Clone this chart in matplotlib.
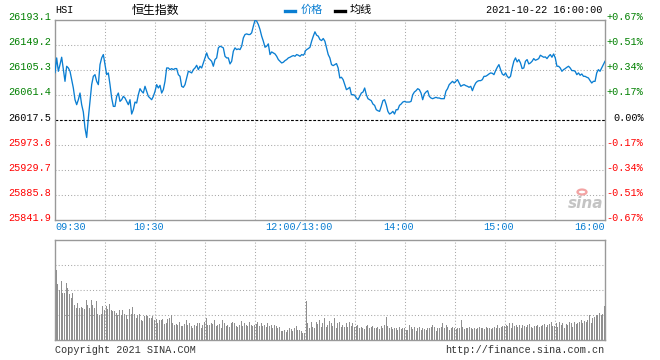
import matplotlib
matplotlib.use("Agg")
import matplotlib.pyplot as plt
import numpy as np
from matplotlib.transforms import blended_transform_factory, offset_copy
from matplotlib.lines import Line2D
from matplotlib.patches import Circle

# ---------------- data ----------------
prev_close = 26017.5
y_levels = [26193.1, 26149.2, 26105.3, 26061.4, 26017.5, 25973.6, 25929.7, 25885.8, 25841.9]
pct_labels = ["+0.67%", "+0.51%", "+0.34%", "+0.17%", "0.00%", "-0.17%", "-0.34%", "-0.51%", "-0.67%"]
time_labels = ["09:30", "10:30", "12:00/13:00", "14:00", "15:00", "16:00"]
time_label_pos = [0, 60, 150, 210, 270, 330]  # minutes of session

price_am = [
    26100.0, 26125.8, 26102.4, 26114.1, 26127.0, 26105.3, 26084.8, 26111.2, 26108.2, 26102.4,
    26087.8, 26073.1, 26052.6, 26043.9, 26052.6, 26064.3, 26043.9, 26031.0, 26002.9, 25986.5,
    26020.5, 26049.7, 26079.0, 26093.6, 26096.5, 26084.8, 26079.0, 26114.1, 26125.8, 26131.7,
    26114.1, 26096.5, 26099.5, 26079.0, 26055.6, 26040.9, 26040.9, 26058.5, 26064.3, 26049.7,
    26052.6, 26058.5, 26055.6, 26049.7, 26043.9, 26052.6, 26027.5, 26035.1, 26048.5, 26046.8,
    26061.4, 26071.9, 26067.3, 26064.3, 26076.1, 26067.3, 26058.5, 26055.6, 26052.6, 26058.5,
    26067.3, 26079.0, 26073.1, 26077.8, 26064.3, 26070.2, 26084.8,
    26108.2, 26108.2, 26105.3, 26107.1, 26105.3, 26107.1, 26107.1, 26096.5, 26093.6, 26076.1,
    26074.3, 26079.0, 26090.7, 26102.4, 26101.2, 26099.5, 26105.3, 26108.2, 26112.9, 26105.3,
    26111.2, 26108.2, 26117.0, 26125.8, 26134.6, 26125.8, 26122.9, 26119.9, 26111.2, 26122.9,
    26125.8, 26143.4, 26146.3, 26145.1, 26143.4, 26128.7, 26125.8, 26125.8, 26115.3, 26119.9,
    26137.5, 26143.4, 26140.4, 26141.6, 26140.4, 26146.3, 26160.9, 26166.8, 26167.9, 26166.8,
    26166.8, 26169.7, 26181.4, 26191.9, 26190.2, 26184.3, 26175.6, 26163.9, 26155.1, 26144.5,
    26146.3, 26150.4, 26131.7, 26136.3, 26134.6, 26132.8,
    26128.7, 26122.9, 26119.9, 26117.0, 26118.2, 26121.1, 26122.9, 26125.8, 26127.0, 26128.7,
    26129.9, 26128.7, 26131.7, 26130.5, 26128.7, 26131.7, 26130.5, 26134.6,
]

price_pm = [
    26137.5, 26140.4, 26142.2, 26144.5, 26155.1, 26163.9, 26171.5, 26165.6, 26163.9, 26158.0,
    26156.2, 26159.8, 26155.1, 26143.4, 26131.7, 26125.8, 26114.1, 26112.3, 26114.1, 26115.9,
    26108.2, 26090.7, 26091.9, 26087.8, 26079.0, 26070.2, 26072.0, 26074.3, 26061.4, 26061.4,
    26060.3, 26055.6, 26052.6, 26058.5, 26064.3, 26066.1, 26073.1, 26061.4, 26054.4, 26052.6,
    26050.9, 26045.0, 26042.7, 26035.1, 26033.3, 26032.2, 26040.9, 26050.9, 26052.6,
    26043.9, 26032.2, 26027.5, 26029.2, 26032.2, 26027.5, 26035.1, 26035.1, 26042.7, 26045.0,
    26048.5, 26049.7, 26048.5, 26048.5, 26048.5, 26049.7, 26061.4, 26066.1, 26068.4, 26071.9,
    26070.2, 26064.3, 26052.6, 26062.6, 26066.1, 26068.4, 26058.5, 26055.6, 26054.4, 26055.6,
    26056.8, 26055.6, 26055.6, 26054.4, 26054.4, 26054.4, 26067.3, 26071.9, 26079.0, 26081.9,
    26084.8, 26081.9, 26084.8, 26087.8, 26081.9, 26076.1, 26077.8, 26079.0, 26077.2, 26076.1,
    26074.3, 26076.1, 26068.4, 26076.1, 26081.9, 26084.8, 26086.0, 26086.0, 26087.8, 26093.6,
    26093.6, 26095.4, 26097.7, 26099.5, 26098.9, 26096.5,
    26103.6, 26109.4, 26114.1, 26105.3, 26097.7, 26095.4, 26099.5, 26093.6, 26090.7, 26093.6,
    26108.2, 26119.9, 26125.8, 26118.8, 26122.9, 26117.0, 26107.1, 26108.2, 26119.9, 26122.9,
    26115.3, 26117.0, 26119.9, 26124.6, 26121.7, 26122.9, 26124.6, 26130.5, 26128.7, 26127.0,
    26127.6, 26124.6, 26128.7, 26131.7, 26127.0, 26132.8, 26125.8, 26111.2, 26111.2, 26108.2,
    26102.4, 26105.3, 26107.1, 26109.4, 26111.2, 26108.2, 26103.6, 26103.6, 26102.4, 26096.5,
    26099.5, 26095.4, 26097.7, 26093.6, 26093.6, 26091.9, 26090.7, 26086.0, 26081.9, 26084.8,
    26084.8, 26099.5, 26105.3, 26102.4, 26108.2, 26114.1, 26119.9,
]

# volume in relative units (one unit = one grid step of the volume panel)
vol_am = [
    2.80, 2.24, 2.00, 2.36, 1.87, 1.90, 2.27, 2.07, 1.83, 1.67, 1.87, 1.40, 1.27, 1.50, 1.27,
    1.33, 1.27, 1.24, 1.60, 1.40, 1.27, 1.60, 1.40, 1.29, 1.56, 1.03, 1.00, 1.03, 1.37, 1.20,
    1.36, 1.24, 1.43, 1.20, 1.16, 1.16, 1.07, 1.00, 1.20, 1.00, 1.20, 1.03, 1.00, 0.84, 1.24,
    1.03, 1.33, 1.03, 0.89, 1.00, 1.03, 0.80, 0.76, 0.97, 1.00, 0.97, 0.89, 0.88, 0.95, 0.80,
    0.85, 0.70, 0.80, 0.82, 0.85, 0.65, 0.68, 0.85, 0.90, 1.00, 0.68, 0.60, 0.65, 0.60, 0.72,
    0.55, 0.58, 0.65, 0.80, 0.62, 0.68, 0.55, 0.50, 0.62, 0.55, 0.70, 0.68, 0.50, 0.62, 0.72,
    0.88, 0.60, 0.62, 0.68, 0.65, 0.80, 0.55, 0.62, 0.65, 0.50, 0.80, 0.70, 0.55, 0.62, 0.52,
    0.70, 0.72, 0.68, 0.58, 0.52, 0.60, 0.75, 0.55, 0.70, 0.62, 0.58, 0.72, 0.62, 0.55, 0.62,
    0.65, 0.72, 0.55, 0.68, 0.58, 0.62, 0.52, 0.68, 0.55, 0.60, 0.50, 0.62, 0.58, 0.48, 0.52,
    0.35, 0.38, 0.40, 0.32, 0.42, 0.50, 0.45, 0.38, 0.48, 0.55, 0.40, 0.42, 0.35, 0.30, 0.28,
]
vol_pm = [
    1.57, 0.67, 0.49, 0.73, 0.53, 0.47, 0.73, 0.63, 0.80, 0.53, 0.67, 0.87, 0.53, 0.60, 0.76,
    0.67, 0.57, 0.89, 0.49, 0.67, 0.73, 0.53, 0.60, 0.53, 0.67, 0.53, 0.73, 0.57, 0.67, 0.53,
    0.55, 0.60, 0.50, 0.53, 0.47, 0.45, 0.55, 0.60, 0.48, 0.53, 0.57, 0.47, 0.50, 0.53, 0.45,
    0.55, 0.50, 0.60, 0.93, 0.55, 0.47, 0.53, 0.45, 0.50, 0.47, 0.40, 0.53, 0.45, 0.50, 0.47,
    0.40, 0.40, 0.60, 0.53, 0.44, 0.53, 0.36, 0.47, 0.53, 0.40, 0.49, 0.44, 0.40, 0.47, 0.47,
    0.53, 0.60, 0.53, 0.36, 0.49, 0.47, 0.53, 0.67, 0.49, 0.60, 0.53, 0.40, 0.47, 0.53, 0.49,
    0.45, 0.50, 0.47, 0.80, 0.53, 0.45, 0.47, 0.49, 0.53, 0.47, 0.45, 0.49, 0.44, 0.47, 0.53,
    0.49, 0.47, 0.45, 0.53, 0.47, 0.49, 0.44, 0.50, 0.53, 0.47, 0.60, 0.49, 0.53, 0.55, 0.57,
    0.60, 0.55, 0.67, 0.47, 0.67, 0.55, 0.60, 0.53, 0.60, 0.47, 0.60, 0.55, 0.53, 0.60, 0.64,
    0.53, 0.49, 0.57, 0.55, 0.60, 0.53, 0.58, 0.62, 0.66, 0.53, 0.60, 0.66, 0.72, 0.55, 0.58,
    0.67, 0.53, 0.73, 0.60, 0.67, 0.49, 0.63, 0.60, 0.73, 0.67, 0.53, 0.73, 0.63, 0.67, 0.73,
    0.80, 0.67, 0.75, 0.73, 0.80, 1.00, 0.67, 0.87, 0.93, 1.00, 1.00, 1.07, 1.00, 1.03, 1.37,
]

# ---------------- style ----------------
W, H = 660, 360
BLUE = "#0a7ed2"
GREEN = "#008000"
RED = "#ff0000"
GRID = "#a8a8a8"
FRAME = "#999999"
MONO = "Liberation Mono"
CJK = ["Noto Sans CJK SC", "DejaVu Sans"]
FS = 7.3

fig = plt.figure(figsize=(W / 100, H / 100), dpi=100)
fig.patch.set_facecolor("white")

def fx(px):
    return px / W

def fy(py):
    return 1 - py / H

L, R = 55, 605
ax = fig.add_axes([fx(L), fy(220), (R - L) / W, (220 - 19.5) / H])
vax = fig.add_axes([fx(L), fy(340), (R - L) / W, (340 - 240) / H])

dot = (0, (1, 2))
for a in (ax, vax):
    a.set_xlim(0, 330)
    a.set_xticks([])
    a.set_yticks([])
    for s in a.spines.values():
        s.set_color(FRAME)
        s.set_linewidth(1.0)
    for m in range(30, 330, 30):
        a.axvline(m, color=GRID, lw=0.75, ls=dot, zorder=1)

# price panel
ax.set_ylim(y_levels[-1], y_levels[0])
for lv in y_levels[1:-1]:
    if lv == prev_close:
        ax.axhline(lv, color="black", lw=0.8, ls=(0, (2.5, 1.5)), zorder=2)
    else:
        ax.axhline(lv, color=GRID, lw=0.75, ls=dot, zorder=1)

x_am = np.linspace(0, 150, len(price_am))
x_pm = np.linspace(150, 330, len(price_pm))
ax.plot(np.r_[x_am, x_pm], np.r_[price_am, price_pm], color=BLUE, lw=0.95, zorder=3)

# y labels
trL = offset_copy(blended_transform_factory(fig.transFigure, ax.transData), fig=fig, x=0, y=2.2, units="dots")
for lv, pl in zip(y_levels, pct_labels):
    if lv > prev_close + 1e-6:
        c = GREEN
    elif lv < prev_close - 1e-6:
        c = RED
    else:
        c = "black"
    fig.text(fx(51.5), lv, f"{lv:.1f}", transform=trL, ha="right", va="center",
             color=c, family=MONO, fontsize=FS)
    fig.text(fx(643.5), lv, pl, transform=trL, ha="right", va="center",
             color=c, family=MONO, fontsize=FS)

# time labels
trX = blended_transform_factory(ax.transData, fig.transFigure)
for lab, m in zip(time_labels, time_label_pos):
    if m == 0:
        t = fig.text(m, fy(227), lab, transform=trX, ha="left", va="center")
    elif m == 330:
        t = fig.text(m, fy(227), lab, transform=trX, ha="right", va="center")
    else:
        t = fig.text(m, fy(227), lab, ha="center", va="center",
                     transform=offset_copy(trX, fig=fig, x=-6, y=0, units="dots"))
    t.set_color(BLUE)
    t.set_family(MONO)
    t.set_fontsize(FS)

# volume panel
vax.set_ylim(0, 4)
for lv in (1, 2, 3):
    vax.axhline(lv, color=GRID, lw=0.75, ls=dot, zorder=1)
xv_am = np.arange(1, len(vol_am) + 1) * 150 / len(vol_am) - 0.3
xv_pm = 150 + np.arange(1, len(vol_pm) + 1) * 180 / len(vol_pm) - 0.3
vax.bar(np.r_[xv_am, xv_pm], np.r_[vol_am, vol_pm], width=0.72, color="#8f8f8f",
        linewidth=0, zorder=2)

# header
fig.text(fx(55), fy(10), "HSI", family=MONO, fontsize=FS, ha="left", va="center", color="black")
fig.text(fx(155), fy(10), "恒生指数", family=CJK, fontsize=8.6, ha="center", va="center", color="black")
fig.add_artist(Line2D([fx(285), fx(295)], [fy(11), fy(11)], color=BLUE, lw=2.4, transform=fig.transFigure))
fig.text(fx(301), fy(10), "价格", family=CJK, fontsize=8, ha="left", va="center", color=BLUE)
fig.add_artist(Line2D([fx(335), fx(345)], [fy(11), fy(11)], color="black", lw=2.4, transform=fig.transFigure))
fig.text(fx(350), fy(10), "均线", family=CJK, fontsize=8, ha="left", va="center", color="black")
fig.text(fx(602), fy(10), "2021-10-22 16:00:00", family=MONO, fontsize=FS, ha="right", va="center", color="black")

# footer
fig.text(fx(55), fy(350), "Copyright 2021 SINA.COM", family=MONO, fontsize=FS, ha="left", va="center", color="#333333")
fig.text(fx(604), fy(350), "http://finance.sina.com.cn", family=MONO, fontsize=FS, ha="right", va="center", color="#333333")

# watermark
fig.add_artist(Circle((fx(582), fy(192)), 4.5 / W, transform=fig.transFigure, facecolor="none",
                      edgecolor="#f3a3a3", lw=1.6))
fig.text(fx(586), fy(204), "sina", family="DejaVu Sans", fontsize=11, fontstyle="italic",
         fontweight="bold", ha="center", va="center", color="#c4c4c4")

fig.savefig("out.png", dpi=100, facecolor="white")
